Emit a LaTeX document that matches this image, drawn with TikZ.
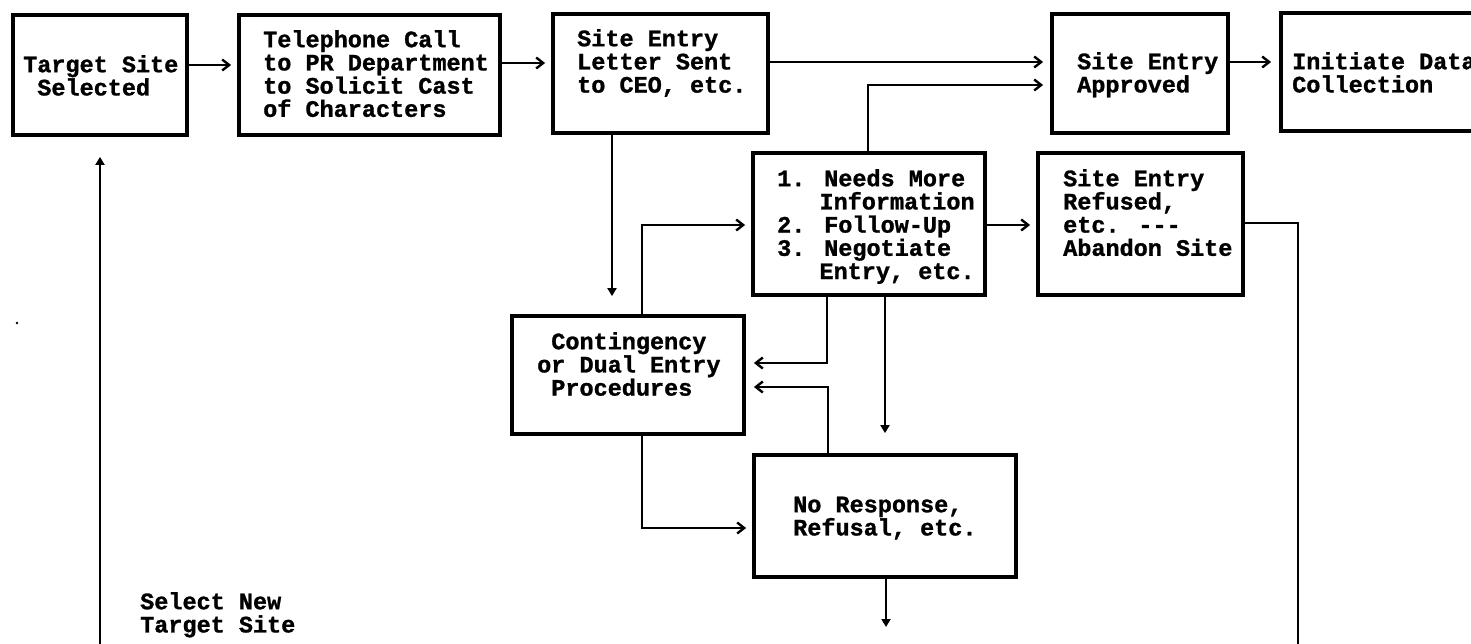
\documentclass[tikz,border=0pt]{standalone}
\usepackage{fontspec}
\newfontfamily\typew{Liberation Mono}[BoldFeatures={FakeBold=1.2}]
\usetikzlibrary{arrows.meta}
\newcommand\mystrut{\rule{0pt}{20pt}}
\tikzset{
  box/.style={draw, line width=3.8pt, inner sep=0pt},
  txt/.style={anchor=north west, inner sep=0pt, align=left,
    font=\fontsize{23.5}{23.2}\selectfont\typew\bfseries},
  ln/.style={line width=2.2pt},
  arr/.style={line width=2.2pt, -{Straight Barb[length=7pt,width=11pt,line width=2.4pt]}},
  tri/.style={line width=2.2pt, -{Triangle[length=8pt,width=9pt]}}
}
\begin{document}
\begin{tikzpicture}[x=1pt,y=-1pt]
\useasboundingbox (0,0) rectangle (1471,644);
\fill[white] (0,0) rectangle (1471,644);
\clip (0,0) rectangle (1471,644);
% boxes
\node[box, minimum width=174pt, minimum height=120pt] (b1) at (100,75) {};
\node[box, minimum width=261pt, minimum height=120pt] (b2) at (369.5,75) {};
\node[box, minimum width=215pt, minimum height=119pt] (b3) at (660.5,73.5) {};
\node[box, minimum width=176pt, minimum height=119pt] (b4) at (1140,73.5) {};
\node[box, minimum width=239pt, minimum height=118pt] (b5) at (1400.5,72) {};
\node[box, minimum width=232pt, minimum height=142pt] (b6) at (869,224) {};
\node[box, minimum width=205pt, minimum height=142pt] (b7) at (1140.5,224) {};
\node[box, minimum width=232pt, minimum height=118pt] (b8) at (628,375) {};
\node[box, minimum width=262pt, minimum height=122pt] (b9) at (885,516) {};
% texts
\node[txt] (t1) at (23,52) {\mystrut Target Site\\~Selected};
\node[txt] (t2) at (263,27) {\mystrut Telephone Call\\to PR Department\\to Solicit Cast\\of Characters};
\node[txt] (t3) at (577,26) {\mystrut Site Entry\\Letter Sent\\to CEO, etc.};
\node[txt] (t4) at (1077,49) {\mystrut Site Entry\\Approved};
\node[txt] (t5) at (1292,49) {\mystrut Initiate Data\\Collection};
\node[txt] (t6) at (777,166) {\mystrut 1. Needs More\\~~~Information\\2. Follow-Up\\3. Negotiate\\~~~Entry, etc.};
\node[txt] (t7) at (1063,166) {\mystrut Site Entry\\Refused,\\etc. ---\\Abandon Site};
\node[txt] (t8) at (537,329) {\mystrut ~Contingency\\or Dual Entry\\~Procedures};
\node[txt] (t9) at (793,492) {\mystrut No Response,\\Refusal, etc.};
\node[txt] (t10) at (140,589) {\mystrut Select New\\Target Site};
% free ends
\coordinate (e1) at (886,627);
\coordinate (e2) at (1298,660);
\coordinate (e3) at (100,660);
% connectors
\draw[arr, shorten >=6pt] (b1.east |- 0,65) -- (b2.west |- 0,65);
\draw[arr, shorten >=6pt] (b2.east |- 0,63) -- (b3.west |- 0,63);
\draw[arr, shorten >=7pt] (b3.east |- 0,62) -- (b4.west |- 0,62);
\draw[arr, shorten >=7pt] (b6.north -| 868,0) |- (b4.west |- 0,85);
\draw[arr, shorten >=8pt] (b4.east |- 0,62) -- (b5.west |- 0,62);
\draw[tri, shorten >=18pt] (b3.south -| 612,0) -- (b8.north -| 612,0);
\draw[arr, shorten >=6pt] (b8.north -| 642,0) |- (b6.west |- 0,225);
\draw[arr, shorten >=6pt] (b6.east |- 0,225) -- (b7.west |- 0,225);
\draw[arr, shorten >=8pt] (b6.south -| 827,0) |- (b8.east |- 0,363);
\draw[arr, shorten >=8pt] (b9.north -| 828,0) |- (b8.east |- 0,387);
\draw[tri, shorten >=20pt] (b6.south -| 885,0) -- (b9.north -| 885,0);
\draw[arr, shorten >=6pt] (b8.south -| 642,0) |- (b9.west |- 0,528);
\draw[tri] (b9.south -| 886,0) -- (e1);
\draw[ln] (b7.east |- 0,223) -| (e2);
\draw[tri, shorten >=20pt] (e3) -- (b1.south);
\fill (17,323) circle (1.3pt);
\end{tikzpicture}
\end{document}
